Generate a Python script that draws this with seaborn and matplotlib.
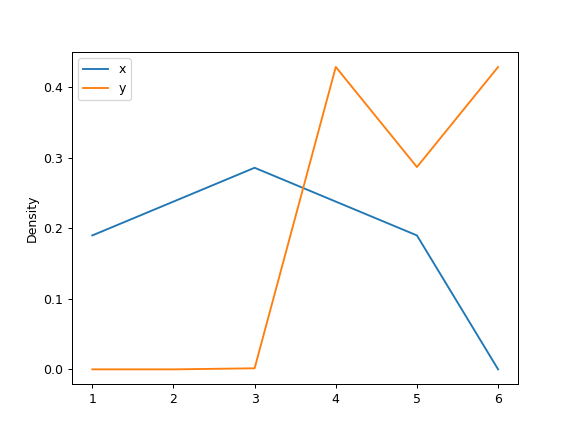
import numpy as np
import pandas as pd
import seaborn as sns
import matplotlib
matplotlib.use('Agg')
import matplotlib.pyplot as plt

# values
positions = [1, 2, 3, 4, 5, 6]
x_density = [0.190, 0.238, 0.286, 0.238, 0.190, 0.0]
y_density = [0.0, 0.0, 0.0015, 0.429, 0.287, 0.429]

df = pd.DataFrame({'x': x_density, 'y': y_density}, index=positions)

fig, ax = plt.subplots(figsize=(6.4, 4.8), dpi=90)
sns.lineplot(data=df, dashes=False, ax=ax)
ax.set_ylabel('Density')
ax.legend(loc='upper left')
fig.savefig('out.png', dpi=90)
